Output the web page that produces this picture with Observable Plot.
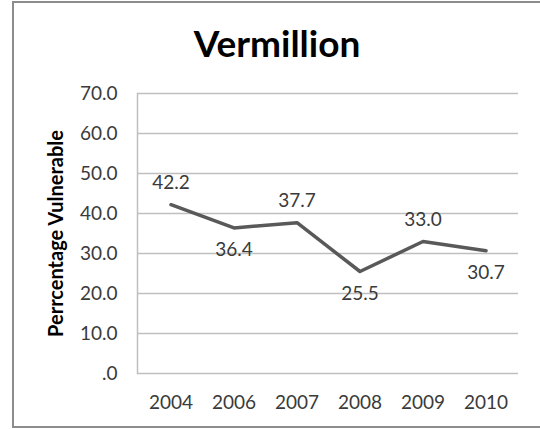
<!DOCTYPE html>
<html>
<head>
<meta charset="utf-8">
<script src="https://cdn.jsdelivr.net/npm/d3@7"></script>
<script src="https://cdn.jsdelivr.net/npm/@observablehq/plot@0.6"></script>
<style>
  html, body { margin: 0; padding: 0; background: #fff; overflow: hidden; }
  #wrap { position: relative; width: 540px; height: 429px; overflow: hidden; }
  #chart { position: absolute; left: 0; top: 0; }
  #border { position: absolute; left: 12px; top: 1px; width: 528px; height: 427px;
            box-sizing: border-box; border: 2px solid #8c8c8c; border-right: none; pointer-events: none; }
  #title { position: absolute; left: 12px; width: 530px; top: 24px; text-align: center;
           font: bold 37px/37px Lato, sans-serif; color: #000; }
</style>
</head>
<body>
<div id="wrap">
  <div id="chart"></div>
  <div id="title">Vermillion</div>
  <div id="border"></div>
</div>
<script>
const years = ["2004", "2006", "2007", "2008", "2009", "2010"];
const values = [42.2, 36.4, 37.7, 25.5, 33.0, 30.7];
const yTicks = [0, 10, 20, 30, 40, 50, 60, 70];
const yLabel = "Perrcentage Vulnerable";
const labelSide = ["above", "below", "above", "below", "above", "below"];

const data = years.map((year, i) => ({year, value: values[i], side: labelSide[i]}));

const fmt = d => d === 0 ? ".0" : d.toFixed(1);

const chart = Plot.plot({
  width: 540,
  height: 429,
  marginLeft: 137,
  marginRight: 22,
  marginTop: 93,
  marginBottom: 56,
  style: {fontFamily: "Lato, sans-serif", fontSize: "19px", color: "#3a3a3a", background: "white"},
  x: {type: "band", domain: years, padding: 0},
  y: {domain: [0, 70]},
  marks: [
    Plot.gridY(yTicks, {stroke: "#bfbfbf", strokeOpacity: 1, strokeWidth: 1.5}),
    Plot.frame({anchor: "left", stroke: "#bfbfbf", strokeWidth: 1.5}),
    Plot.axisY(yTicks, {tickSize: 0, tickPadding: 20, tickFormat: fmt, fill: "#3a3a3a",
      label: yLabel, labelAnchor: "center", labelOffset: 89, labelArrow: "none"}),
    Plot.axisX({tickSize: 0, tickPadding: 22, fill: "#3a3a3a", label: null}),
    Plot.lineY(data, {x: "year", y: "value", stroke: "#595959", strokeWidth: 3.5}),
    Plot.text(data.filter(d => d.side === "above"), {x: "year", y: "value", text: d => d.value.toFixed(1), dy: -22, fill: "#3a3a3a"}),
    Plot.text(data.filter(d => d.side === "below"), {x: "year", y: "value", text: d => d.value.toFixed(1), dy: 22, fill: "#3a3a3a"})
  ]
});
document.getElementById("chart").appendChild(chart);
chart.querySelectorAll("[aria-label='y-axis label'] text, [aria-label='y-axis label']").forEach(el => {
  el.setAttribute("font-weight", "bold");
  el.setAttribute("font-size", "20");
  el.setAttribute("fill", "#000");
});
</script>
</body>
</html>
